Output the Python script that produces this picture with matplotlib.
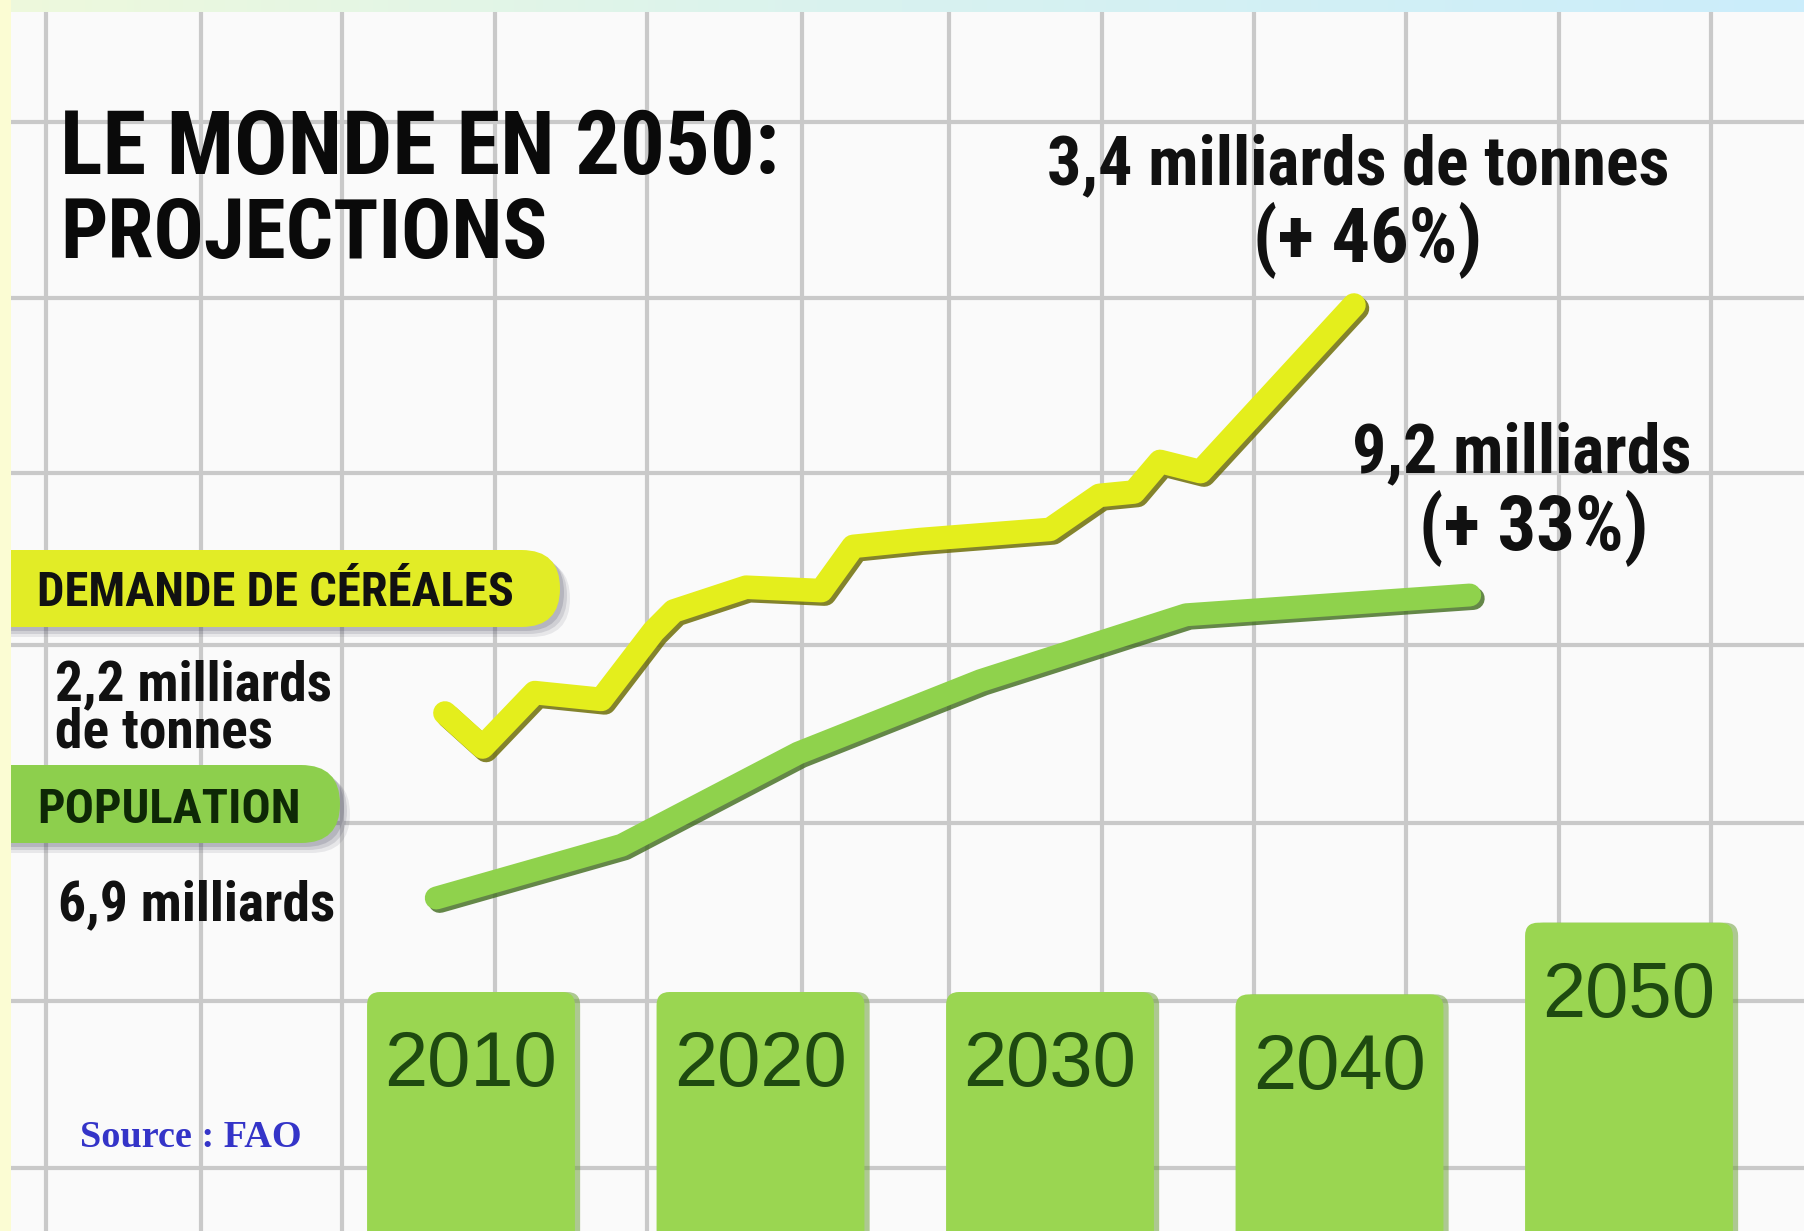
import matplotlib
matplotlib.use("Agg")
import matplotlib.pyplot as plt
import matplotlib.patheffects as pe
from matplotlib import font_manager
from matplotlib.patches import FancyBboxPatch, Rectangle
import numpy as np

W, H, DPI = 1804, 1231, 100

# ---- data ----
bar_years = [2010, 2020, 2030, 2040, 2050]
bar_levels = [1.0, 1.0, 1.0, 0.99, 1.29]

cereal_years = [2009.1, 2010.4, 2012.2, 2014.5, 2016.3, 2017.0, 2019.5, 2022.1,
                2023.2, 2025.5, 2030.0, 2031.7, 2032.9, 2033.8, 2035.2, 2040.5]
cereal_values = [2.20, 2.10, 2.26, 2.24, 2.44, 2.50, 2.57, 2.56,
                 2.69, 2.71, 2.74, 2.84, 2.85, 2.94, 2.91, 3.40]

pop_years = [2008.8, 2015.2, 2021.3, 2027.6, 2034.7, 2044.5]
pop_values = [6.90, 7.30, 8.00, 8.55, 9.05, 9.20]

title_lines = ["LE MONDE EN 2050:", "PROJECTIONS"]
cereal_label = "DEMANDE DE CÉRÉALES"
pop_label = "POPULATION"
cereal_start = ["2,2 milliards", "de tonnes"]
pop_start = "6,9 milliards"
cereal_end = ["3,4 milliards de tonnes", "(+ 46%)"]
pop_end = ["9,2 milliards", "(+ 33%)"]
source = "Source : FAO"

# grid of the squared paper (pixels)
grid_x = [46, 201, 342, 495, 647, 802, 949, 1102, 1254, 1406, 1559, 1711]
grid_y = [122, 298, 473, 645, 823, 1001, 1168]

YELLOW = "#e4ee1c"
GREEN = "#8fd24c"
BAR_GREEN = "#9ad651"

names = {f.name for f in font_manager.fontManager.ttflist}


def pick(*cands):
    for c in cands:
        if c in names:
            return c
    return "DejaVu Sans"


COND = pick("Roboto Condensed", "Liberation Sans Narrow", "DejaVu Sans")
SANS = pick("Liberation Sans", "DejaVu Sans")
SERIF = pick("Liberation Serif", "DejaVu Serif")

fig = plt.figure(figsize=(W / DPI, H / DPI), dpi=DPI)

# background paper with grid, pixel coordinates
bg = fig.add_axes([0, 0, 1, 1], zorder=0)
bg.set_xlim(0, W)
bg.set_ylim(H, 0)
bg.set_facecolor("#fafafa")
bg.set_xticks(grid_x)
bg.set_yticks(grid_y)
bg.grid(True, color="#c9c9c9", lw=3.0)
bg.tick_params(length=0, labelbottom=False, labelleft=False)
for s in bg.spines.values():
    s.set_visible(False)

# year axis shared by bars and lines: bar centres at 471 px, 28.95 px per year
px_year = 28.95
xlim = (2010 - 471 / px_year, 2010 + (W - 471) / px_year)

# bars
axb = fig.add_axes([0, 0, 1, 1], zorder=1)
axb.set_xlim(*xlim)
axb.set_ylim(0, H / 239)
axb.axis("off")
bars = axb.bar(bar_years, bar_levels, width=7.18, color=BAR_GREEN)
asp = (12 / 239) / (12 / px_year)
for rect in bars:
    x0, wd, top = rect.get_x(), rect.get_width(), rect.get_height()
    rect.remove()
    sh = FancyBboxPatch((x0 + 0.18, -0.5), wd, top + 0.5,
                        boxstyle="round,pad=0,rounding_size=0.45", mutation_aspect=asp,
                        fc="#6f9f3c", ec="none", alpha=0.55)
    axb.add_patch(sh)
    p = FancyBboxPatch((x0, -0.5), wd, top + 0.5,
                       boxstyle="round,pad=0,rounding_size=0.45", mutation_aspect=asp,
                       fc=BAR_GREEN, ec="none")
    axb.add_patch(p)
for yr, lv in zip(bar_years, bar_levels):
    axb.annotate(str(yr), (yr, lv), xytext=(0, -53), textcoords="offset points",
                 ha="center", va="center", fontsize=56, color="#1e4a10",
                 family=SANS)

# cereal line
axc = fig.add_axes([0, 0, 1, 1], zorder=2)
axc.set_xlim(*xlim)
kc = 1.2 / 408
axc.set_ylim(2.2 - (H - 713) * kc, 2.2 + 713 * kc)
axc.axis("off")
axc.plot(cereal_years, cereal_values, color=YELLOW, lw=17, solid_capstyle="round",
         solid_joinstyle="round",
         path_effects=[pe.SimpleLineShadow(offset=(2.5, -2.5), shadow_color="#6e6e08", alpha=0.85),
                       pe.Normal()])

# population line
axp = fig.add_axes([0, 0, 1, 1], zorder=2)
axp.set_xlim(*xlim)
kp = 2.3 / 303
axp.set_ylim(6.9 - (H - 898) * kp, 6.9 + 898 * kp)
axp.axis("off")
axp.plot(pop_years, pop_values, color=GREEN, lw=16.5, solid_capstyle="round",
         solid_joinstyle="round",
         path_effects=[pe.SimpleLineShadow(offset=(2.5, -2.5), shadow_color="#3f6a1c", alpha=0.8),
                       pe.Normal()])

# overlay: labels, pills, frame strips (pixels)
ov = fig.add_axes([0, 0, 1, 1], zorder=3)
ov.set_xlim(0, W)
ov.set_ylim(H, 0)
ov.axis("off")


def pill(x1, y0, y1, color):
    h = y1 - y0
    for k, a in [(10, 0.10), (7, 0.14), (4, 0.18)]:
        ov.add_patch(FancyBboxPatch((-60 + k, y0 + k), x1 + 60, h,
                                    boxstyle=f"round,pad=0,rounding_size={h / 2}",
                                    fc="#40405a", ec="none", alpha=a))
    ov.add_patch(FancyBboxPatch((-60, y0), x1 + 60, h,
                                boxstyle=f"round,pad=0,rounding_size={h / 2}",
                                fc=color, ec="none"))


pill(560, 550, 627, "#e2ec26")
pill(340, 765, 843, "#8dcf4d")

bold = dict(family=COND, fontweight="bold", color="#111111")
heavy = dict(family=COND, fontweight="black", color="#0a0a0a")
ov.text(60, 174, title_lines[0], fontsize=64, va="baseline", **heavy)
ov.text(60, 258, title_lines[1], fontsize=60, va="baseline", **heavy)

ov.text(37, 606, cereal_label, fontsize=35, va="baseline", **bold)
ov.text(37, 823, pop_label, fontsize=35, va="baseline", color="#0e2806",
        family=COND, fontweight="bold")
ov.text(55, 700, cereal_start[0], fontsize=40, va="baseline", **bold)
ov.text(55, 748, cereal_start[1], fontsize=40, va="baseline", **bold)
ov.text(58, 920, pop_start, fontsize=40, va="baseline", **bold)

ov.text(1358, 184, cereal_end[0], fontsize=49, va="baseline", ha="center", **bold)
ov.text(1368, 262, cereal_end[1], fontsize=55, va="baseline", ha="center", **bold)
ov.text(1522, 472, pop_end[0], fontsize=49, va="baseline", ha="center", **bold)
ov.text(1534, 550, pop_end[1], fontsize=55, va="baseline", ha="center", **bold)

ov.text(80, 1147, source, fontsize=27.5, va="baseline", color="#3434c8",
        family=SERIF, fontweight="bold")

# light frame strips at top and left
grad = np.linspace(0, 1, 256)[None, :]
top_cols = matplotlib.colors.LinearSegmentedColormap.from_list("top", ["#eef9dc", "#d8f2f0", "#cbedfb"])
ov.imshow(grad, cmap=top_cols, extent=(0, W, 12, 0), aspect="auto", zorder=5)
ov.add_patch(Rectangle((0, 0), 11, H, fc="#fbfcd3", ec="none", zorder=6))
ov.set_xlim(0, W)
ov.set_ylim(H, 0)

fig.savefig("out.png", dpi=DPI)
